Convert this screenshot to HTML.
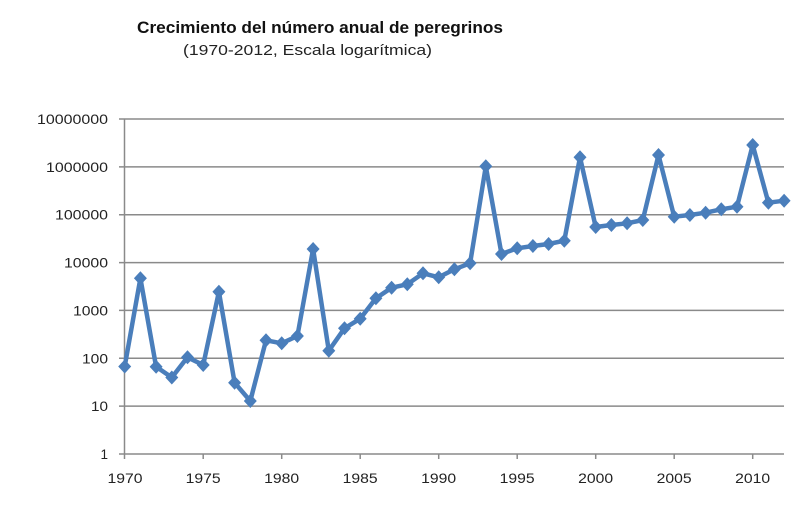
<!DOCTYPE html>
<html><head><meta charset="utf-8"><style>
html,body{margin:0;padding:0;background:#fff;}
svg{display:block;}
</style></head><body>
<svg width="811" height="512" viewBox="0 0 811 512" xmlns="http://www.w3.org/2000/svg">
<rect width="811" height="512" fill="#fff"/>
<text x="137" y="33" font-family="Liberation Sans, sans-serif" font-weight="bold" font-size="16.5" fill="#111" textLength="366" lengthAdjust="spacingAndGlyphs">Crecimiento del  número anual de peregrinos</text>
<text x="183" y="55" font-family="Liberation Sans, sans-serif" font-size="14.5" fill="#222" textLength="249" lengthAdjust="spacingAndGlyphs">(1970-2012,  Escala logarítmica)</text>
<g stroke="#8a8a8a" stroke-width="1.5" fill="none">
<line x1="119" y1="119" x2="784" y2="119"/>
<line x1="119" y1="166.9" x2="784" y2="166.9"/>
<line x1="119" y1="214.7" x2="784" y2="214.7"/>
<line x1="119" y1="262.6" x2="784" y2="262.6"/>
<line x1="119" y1="310.4" x2="784" y2="310.4"/>
<line x1="119" y1="358.3" x2="784" y2="358.3"/>
<line x1="119" y1="406.1" x2="784" y2="406.1"/>
<line x1="119" y1="454" x2="784" y2="454"/>
<line x1="124.5" y1="119" x2="124.5" y2="459"/>
<line x1="203.2" y1="454" x2="203.2" y2="459"/>
<line x1="281.7" y1="454" x2="281.7" y2="459"/>
<line x1="360.2" y1="454" x2="360.2" y2="459"/>
<line x1="438.7" y1="454" x2="438.7" y2="459"/>
<line x1="517.2" y1="454" x2="517.2" y2="459"/>
<line x1="595.7" y1="454" x2="595.7" y2="459"/>
<line x1="674.2" y1="454" x2="674.2" y2="459"/>
<line x1="752.7" y1="454" x2="752.7" y2="459"/>
</g>
<g font-family="Liberation Sans, sans-serif" font-size="13.5" fill="#222" text-anchor="end">
<text x="108" y="124" textLength="71" lengthAdjust="spacingAndGlyphs">10000000</text>
<text x="108" y="172" textLength="62" lengthAdjust="spacingAndGlyphs">1000000</text>
<text x="108" y="219.7" textLength="53" lengthAdjust="spacingAndGlyphs">100000</text>
<text x="108" y="267.6" textLength="44" lengthAdjust="spacingAndGlyphs">10000</text>
<text x="108" y="315.4" textLength="35" lengthAdjust="spacingAndGlyphs">1000</text>
<text x="108" y="363.3" textLength="26" lengthAdjust="spacingAndGlyphs">100</text>
<text x="108" y="411.1" textLength="17" lengthAdjust="spacingAndGlyphs">10</text>
<text x="108" y="459">1</text>
</g>
<g font-family="Liberation Sans, sans-serif" font-size="14" fill="#222">
<text x="107.5" y="483" textLength="35" lengthAdjust="spacingAndGlyphs">1970</text>
<text x="185.7" y="483" textLength="35" lengthAdjust="spacingAndGlyphs">1975</text>
<text x="264.2" y="483" textLength="35" lengthAdjust="spacingAndGlyphs">1980</text>
<text x="342.7" y="483" textLength="35" lengthAdjust="spacingAndGlyphs">1985</text>
<text x="421.2" y="483" textLength="35" lengthAdjust="spacingAndGlyphs">1990</text>
<text x="499.7" y="483" textLength="35" lengthAdjust="spacingAndGlyphs">1995</text>
<text x="578.2" y="483" textLength="35" lengthAdjust="spacingAndGlyphs">2000</text>
<text x="656.7" y="483" textLength="35" lengthAdjust="spacingAndGlyphs">2005</text>
<text x="735.2" y="483" textLength="35" lengthAdjust="spacingAndGlyphs">2010</text>
</g>
<polyline fill="none" stroke="#4a7ebb" stroke-width="4.5" stroke-linejoin="round" points="124.7,366.5 140.4,278.3 156.1,366.7 171.8,377.5 187.5,357.3 203.2,365 218.9,291.7 234.6,382.7 250.3,401 266,340.3 281.7,343.3 297.4,336 313.1,249 328.8,350.7 344.5,328.3 360.2,318.7 375.9,298.3 391.6,287.7 407.3,284.3 423,273.3 438.7,277.3 454.4,269.3 470.1,263.3 485.8,166.3 501.5,254 517.2,248.3 532.9,246 548.6,244 564.3,240.7 580,157.3 595.7,227 611.4,225 627.1,223.3 642.8,220 658.5,155 674.2,216.7 689.9,215 705.6,212.7 721.3,209.3 737,206.7 752.7,145 768.4,202.7 784.1,200.7"/>
<path fill="#4a7ebb" d="M124.7,359.5 l6.5,7 l-6.5,7 l-6.5,-7z M140.4,271.3 l6.5,7 l-6.5,7 l-6.5,-7z M156.1,359.7 l6.5,7 l-6.5,7 l-6.5,-7z M171.8,370.5 l6.5,7 l-6.5,7 l-6.5,-7z M187.5,350.3 l6.5,7 l-6.5,7 l-6.5,-7z M203.2,358 l6.5,7 l-6.5,7 l-6.5,-7z M218.9,284.7 l6.5,7 l-6.5,7 l-6.5,-7z M234.6,375.7 l6.5,7 l-6.5,7 l-6.5,-7z M250.3,394 l6.5,7 l-6.5,7 l-6.5,-7z M266,333.3 l6.5,7 l-6.5,7 l-6.5,-7z M281.7,336.3 l6.5,7 l-6.5,7 l-6.5,-7z M297.4,329 l6.5,7 l-6.5,7 l-6.5,-7z M313.1,242 l6.5,7 l-6.5,7 l-6.5,-7z M328.8,343.7 l6.5,7 l-6.5,7 l-6.5,-7z M344.5,321.3 l6.5,7 l-6.5,7 l-6.5,-7z M360.2,311.7 l6.5,7 l-6.5,7 l-6.5,-7z M375.9,291.3 l6.5,7 l-6.5,7 l-6.5,-7z M391.6,280.7 l6.5,7 l-6.5,7 l-6.5,-7z M407.3,277.3 l6.5,7 l-6.5,7 l-6.5,-7z M423,266.3 l6.5,7 l-6.5,7 l-6.5,-7z M438.7,270.3 l6.5,7 l-6.5,7 l-6.5,-7z M454.4,262.3 l6.5,7 l-6.5,7 l-6.5,-7z M470.1,256.3 l6.5,7 l-6.5,7 l-6.5,-7z M485.8,159.3 l6.5,7 l-6.5,7 l-6.5,-7z M501.5,247 l6.5,7 l-6.5,7 l-6.5,-7z M517.2,241.3 l6.5,7 l-6.5,7 l-6.5,-7z M532.9,239 l6.5,7 l-6.5,7 l-6.5,-7z M548.6,237 l6.5,7 l-6.5,7 l-6.5,-7z M564.3,233.7 l6.5,7 l-6.5,7 l-6.5,-7z M580,150.3 l6.5,7 l-6.5,7 l-6.5,-7z M595.7,220 l6.5,7 l-6.5,7 l-6.5,-7z M611.4,218 l6.5,7 l-6.5,7 l-6.5,-7z M627.1,216.3 l6.5,7 l-6.5,7 l-6.5,-7z M642.8,213 l6.5,7 l-6.5,7 l-6.5,-7z M658.5,148 l6.5,7 l-6.5,7 l-6.5,-7z M674.2,209.7 l6.5,7 l-6.5,7 l-6.5,-7z M689.9,208 l6.5,7 l-6.5,7 l-6.5,-7z M705.6,205.7 l6.5,7 l-6.5,7 l-6.5,-7z M721.3,202.3 l6.5,7 l-6.5,7 l-6.5,-7z M737,199.7 l6.5,7 l-6.5,7 l-6.5,-7z M752.7,138 l6.5,7 l-6.5,7 l-6.5,-7z M768.4,195.7 l6.5,7 l-6.5,7 l-6.5,-7z M784.1,193.7 l6.5,7 l-6.5,7 l-6.5,-7z"/>
</svg>
</body></html>
